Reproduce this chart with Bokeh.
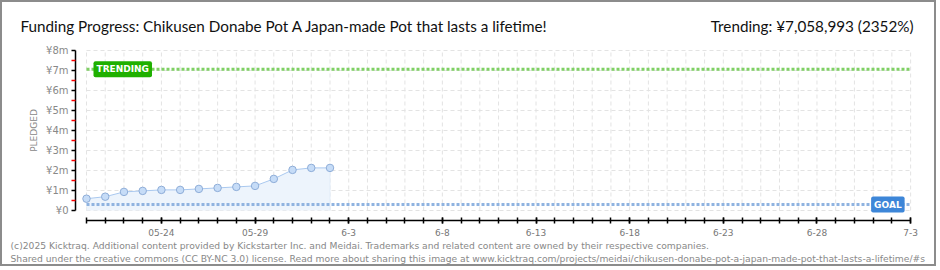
import pandas as pd
from bokeh.plotting import figure
from bokeh.models import Label, FixedTicker, Range1d, LinearAxis
from bokeh.embed import file_html
from bokeh.resources import INLINE

# ---------------- data ----------------
dates = ["2025-05-20", "2025-05-21", "2025-05-22", "2025-05-23", "2025-05-24",
         "2025-05-25", "2025-05-26", "2025-05-27", "2025-05-28", "2025-05-29",
         "2025-05-30", "2025-05-31", "2025-06-01", "2025-06-02"]
pledged = [590000, 690000, 930000, 980000, 1030000, 1030000, 1080000,
           1130000, 1180000, 1230000, 1580000, 2030000, 2130000, 2130000]
goal = 300000
trending = 7058993
axis_start = "2025-05-20"
axis_end = "2025-07-03"
x_tick_dates = ["2025-05-24", "2025-05-29", "2025-06-03", "2025-06-08", "2025-06-13",
                "2025-06-18", "2025-06-23", "2025-06-28", "2025-07-03"]
x_tick_labels = ["05-24", "05-29", "6-3", "6-8", "6-13", "6-18", "6-23", "6-28", "7-3"]
y_ticks = [0, 1000000, 2000000, 3000000, 4000000, 5000000, 6000000, 7000000, 8000000]
y_tick_labels = ["¥0", "¥1m", "¥2m", "¥3m", "¥4m", "¥5m", "¥6m", "¥7m", "¥8m"]
title_text = "Funding Progress: Chikusen Donabe Pot A Japan-made Pot that lasts a lifetime!"
trend_text = "Trending:  ¥7,058,993 (2352%)"
footer1 = ("(c)2025 Kicktraq. Additional content provided by Kickstarter Inc. and Meidai. "
           "Trademarks and related content are owned by their respective companies.")
footer2 = ("Shared under the creative commons (CC BY-NC 3.0) license. Read more about sharing "
           "this image at www.kicktraq.com/projects/meidai/chikusen-donabe-pot-a-japan-made-pot-that-lasts-a-lifetime/#s")

# ---------------- derived ----------------
t0 = pd.Timestamp(axis_start)
def day(d):
    return (pd.Timestamp(d) - t0).days

x = [day(d) for d in dates]
x_end = day(axis_end)
all_days = list(range(0, x_end + 1))
x_ticks = [day(d) for d in x_tick_dates]
y_top = y_ticks[-1]

TITLE_FONT = "Lato"
SMALL_FONT = "DejaVu Sans"
W, H = 936, 266
PX_DAY = 18.73          # pixels per day
PX_YEN = 20 / 1e6       # pixels per yen
X0, Y0 = 84, 208        # canvas position of (first day, 0 yen)

# The frame fills the whole canvas; axes are pinned inside it with fixed_location.
p = figure(width=W, height=H, output_backend="svg", toolbar_location=None,
           x_range=Range1d(-X0 / PX_DAY, (W - X0) / PX_DAY),
           y_range=Range1d(-(H - Y0) / PX_YEN, Y0 / PX_YEN),
           x_axis_type=None, y_axis_type=None, min_border=0)
p.styles = {"border": "2px solid #8c8c8c"}
p.outline_line_color = None
p.xgrid.visible = False
p.ygrid.visible = False

# grid drawn as dashed segments limited to the data region
p.segment(x0=all_days, x1=all_days, y0=[0] * len(all_days), y1=[y_top] * len(all_days),
          line_color="#e3e3e3", line_width=1, line_dash="4 3")
p.segment(x0=[0] * len(y_ticks), x1=[x_end] * len(y_ticks), y0=y_ticks, y1=y_ticks,
          line_color="#e3e3e3", line_width=1, line_dash="4 3")

# area
p.varea(x=x, y1=[0] * len(x), y2=pledged, fill_color="#edf4fc")
p.line(x=[x[-1], x[-1]], y=[0, pledged[-1]], line_color="#e2ecf8", line_width=1)

# goal & trending lines
p.segment(x0=[0], x1=[x_end], y0=[goal], y1=[goal], line_color="#8fb3e0", line_width=3, line_dash="3 2")
p.segment(x0=[0], x1=[x_end], y0=[trending], y1=[trending], line_color="#7fd064", line_width=3, line_dash="3 2")

# pledged line + points
p.line(x=x, y=pledged, line_color="#a9c8ef", line_width=1)
p.scatter(x=x, y=pledged, size=7.5, fill_color="#c6dcf7", line_color="#8eadd8", line_width=1)

# axes (pinned at fixed locations just outside the data region)
xaxis = LinearAxis(fixed_location=-10 / PX_YEN)
xaxis.ticker = FixedTicker(ticks=x_ticks, minor_ticks=all_days)
xaxis.major_label_overrides = {t: l for t, l in zip(x_ticks, x_tick_labels)}
xaxis.bounds = (0, x_end)
xaxis.axis_line_color = "black"
xaxis.axis_line_width = 1.5
xaxis.major_tick_in = 3
xaxis.major_tick_out = 3
xaxis.minor_tick_in = 3
xaxis.minor_tick_out = 3
xaxis.major_tick_line_width = 1.5
xaxis.minor_tick_line_width = 1.5
xaxis.major_tick_line_color = "black"
xaxis.minor_tick_line_color = "black"
xaxis.major_label_text_font = SMALL_FONT
xaxis.major_label_text_font_size = "9px"
xaxis.major_label_text_color = "#777777"
xaxis.major_label_standoff = 5
p.add_layout(xaxis, "below")

yaxis = LinearAxis(fixed_location=-11 / PX_DAY)
yaxis.ticker = FixedTicker(ticks=y_ticks, minor_ticks=[v + 500000 for v in y_ticks[:-1]])
yaxis.major_label_overrides = {t: l for t, l in zip(y_ticks, y_tick_labels)}
yaxis.bounds = (0, y_top)
yaxis.axis_line_color = "black"
yaxis.axis_line_width = 1.5
yaxis.major_tick_in = 0
yaxis.major_tick_out = 4
yaxis.minor_tick_in = 0
yaxis.minor_tick_out = 4
yaxis.major_tick_line_width = 1.5
yaxis.minor_tick_line_width = 1.5
yaxis.major_tick_line_color = "black"
yaxis.minor_tick_line_color = "red"
yaxis.major_label_text_font = SMALL_FONT
yaxis.major_label_text_font_size = "10px"
yaxis.major_label_text_color = "#888888"
yaxis.major_label_standoff = 3
yaxis.axis_label = "PLEDGED"
yaxis.axis_label_text_font = SMALL_FONT
yaxis.axis_label_text_font_size = "9px"
yaxis.axis_label_text_font_style = "normal"
yaxis.axis_label_text_color = "#888888"
yaxis.axis_label_standoff = 4
p.add_layout(yaxis, "left")

# marker labels
p.add_layout(Label(x=0, y=trending, x_offset=7, text="TRENDING", text_baseline="middle",
                   text_font=SMALL_FONT, text_font_size="9px", text_color="white",
                   text_font_style="bold",
                   background_fill_color="#1fb000", padding=3, border_radius=2))
p.add_layout(Label(x=x_end, y=goal, x_offset=-6, text="GOAL", text_baseline="middle", text_align="right",
                   text_font=SMALL_FONT, text_font_size="9px", text_color="white",
                   text_font_style="bold",
                   background_fill_color="#3d86d8", padding=3, border_radius=2))

# header / footer texts (screen units: from frame left / bottom)
p.add_layout(Label(x=18, y=H - 23, x_units="screen", y_units="screen", text=title_text,
                   text_baseline="middle", text_font=TITLE_FONT, text_font_size="15.25px",
                   text_color="#111111"))
p.add_layout(Label(x=915, y=H - 23, x_units="screen", y_units="screen", text=trend_text,
                   text_baseline="middle", text_align="right", text_font=TITLE_FONT,
                   text_font_size="15.25px", text_color="#111111"))
p.add_layout(Label(x=8, y=H - 243, x_units="screen", y_units="screen", text=footer1,
                   text_baseline="middle", text_font=SMALL_FONT, text_font_size="9.2px",
                   text_color="#888888"))
p.add_layout(Label(x=8, y=H - 256, x_units="screen", y_units="screen", text=footer2,
                   text_baseline="middle", text_font=SMALL_FONT, text_font_size="9.2px",
                   text_color="#888888"))

open("out.html", "w").write(file_html(p, INLINE))
